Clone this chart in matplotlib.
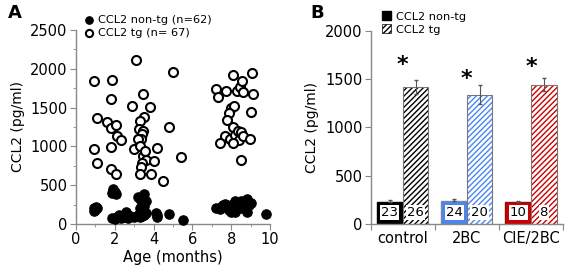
import numpy as np
import matplotlib.pyplot as plt
import matplotlib as mpl
from matplotlib.patches import Patch

plt.rcParams['font.family'] = ['DejaVu Sans']
mpl.rcParams['hatch.linewidth'] = 1.0

# Panel A: CCL2 tg (open circles)
tg_age = [0.95, 1.07, 0.93, 1.07,
          1.86, 1.82, 1.62, 1.80, 2.06, 2.13, 2.30, 1.82, 1.80, 2.04,
          3.1, 2.9, 3.45, 3.8, 3.5, 3.3, 3.25, 3.45, 3.4, 3.35, 3.2, 3.0, 3.3,
          3.45, 3.6, 3.4, 3.35, 3.3, 3.85, 4.0, 4.2, 4.8, 4.5, 5.0, 5.4, 3.55,
          7.2, 7.3, 7.75, 8.1, 8.3, 8.45, 8.55, 8.6, 9.05, 9.1, 8.0, 8.15,
          7.9, 7.8, 9.0, 8.1, 7.7, 7.95, 8.2, 8.35, 8.5, 8.4, 8.6, 8.95, 7.4,
          8.1, 8.5]
tg_val = [1840, 1370, 970, 780,
          1860, 1610, 1320, 1240, 1270, 1140, 1080, 990, 710, 640,
          2110, 1520, 1670, 1510, 1380, 1330, 1220, 1200, 1160, 1100, 1100, 970, 1010,
          880, 820, 780, 740, 640, 640, 810, 980, 1250, 550, 1960, 860, 940,
          1740, 1640, 1720, 1920, 1720, 1760, 1840, 1700, 1940, 1680, 1500, 1520,
          1430, 1340, 1440, 1250, 1130, 1100, 1150, 1200, 1180, 1080, 1140, 1100, 1050,
          1050, 830]

# Panel A: CCL2 non-tg (filled circles)
ntg_age = [0.95, 1.05, 1.0, 1.1, 0.95,
           1.9, 1.85, 2.0, 2.05, 1.9, 1.85, 2.0, 2.2, 2.1, 2.3, 2.4, 2.6, 2.5, 2.8, 2.7, 3.0,
           3.2, 3.3, 3.5, 3.4, 3.5, 3.6, 3.3, 3.4, 3.2, 3.4, 3.5, 3.6, 3.3, 4.1, 4.2, 4.2,
           4.8, 5.5,
           7.2, 7.4, 7.5, 7.7, 7.8, 7.9, 8.0, 8.1, 8.2, 8.2, 8.3, 8.4, 8.5, 8.6, 8.7, 8.8,
           8.8, 8.9, 9.0, 8.0, 9.8, 7.6, 8.5]
ntg_val = [200, 220, 180, 210, 170,
           450, 400, 410, 390, 420, 80, 70, 120, 90, 80, 100, 150, 90, 100, 80, 90,
           350, 320, 390, 280, 230, 300, 200, 180, 120, 100, 120, 140, 90, 140, 120, 90,
           130, 50,
           210, 190, 230, 260, 220, 180, 250, 210, 300, 160, 280, 230, 200, 260, 300, 320,
           160, 250, 270, 160, 130, 240, 290]

# Panel B
groups = ['control', '2BC', 'CIE/2BC']
ntg_mean = [231, 238, 228]
ntg_err = [15, 18, 15]
tg_mean = [1417, 1337, 1443]
tg_err = [75, 100, 70]
star_y = [1650, 1500, 1625]
ntg_n = ['23', '24', '10']
tg_n = ['26', '20', '8']
face_cols = ['black', '#4a86f0', '#cc0000']
edge_cols = ['black', '#7a8aa0', '#8a1010']

fig = plt.figure(figsize=(5.67, 2.72), dpi=100)
W, H = 567, 272
axA = fig.add_axes([76 / W, 1 - 224 / H, 194 / W, 194 / H])
axB = fig.add_axes([370.7 / W, 1 - 224 / H, 192.3 / W, 193.3 / H])

spine_col = '#888888'
for ax in (axA, axB):
    for s in ['top', 'right']:
        ax.spines[s].set_visible(False)
    for s in ['left', 'bottom']:
        ax.spines[s].set_color(spine_col)
        ax.spines[s].set_linewidth(1.0)
    ax.tick_params(which='both', direction='out', color=spine_col, labelsize=10.5,
                   pad=2)
    ax.tick_params(which='major', length=4)
    ax.tick_params(which='minor', length=2.5)

# --- A ---
h1 = axA.scatter(ntg_age, ntg_val, s=46, c='black', edgecolors='black', linewidths=0.8,
                 zorder=3, clip_on=False)
h2 = axA.scatter(tg_age, tg_val, s=42, facecolors='white', edgecolors='black',
                 linewidths=1.5, zorder=2, clip_on=False)
axA.set_xlim(0, 10)
axA.set_ylim(0, 2500)
axA.set_xticks([0, 2, 4, 6, 8, 10])
axA.set_xticks([1, 3, 5, 7, 9], minor=True)
axA.set_yticks(np.arange(0, 2501, 500))
axA.set_yticks(np.arange(250, 2500, 500), minor=True)
axA.set_xlabel('Age (months)', fontsize=10.5, labelpad=2)
axA.set_ylabel('CCL2 (pg/ml)', fontsize=10, labelpad=4)
axA.legend([h1, h2], ['CCL2 non-tg (n=62)', 'CCL2 tg (n= 67)'], loc='lower left',
           bbox_to_anchor=(0.01, 0.93), frameon=False, fontsize=8.2, handletextpad=0.3,
           handlelength=1.0, borderpad=0, labelspacing=0.25, markerscale=0.8)
fig.text(8 / W, 1 - 13 / H, 'A', fontsize=13, fontweight='bold', va='center')

# --- B ---
x = np.arange(len(groups)) + 0.5
bw = 0.4
for i in range(len(groups)):
    axB.bar(x[i] - bw / 2, ntg_mean[i], bw, color=face_cols[i], edgecolor=edge_cols[i],
            linewidth=1.0, zorder=2)
    axB.errorbar(x[i] - bw / 2, ntg_mean[i], yerr=[[0], [ntg_err[i]]], fmt='none',
                 ecolor='#555555', elinewidth=0.8, capsize=1.5, zorder=3)
    axB.bar(x[i] + bw / 2, tg_mean[i], bw, color='white', edgecolor=face_cols[i],
            hatch='//////', linewidth=0, zorder=2)
    axB.bar(x[i] + bw / 2, tg_mean[i], bw, fill=False, edgecolor='#777777',
            linewidth=0.8, zorder=2.5)
    axB.errorbar(x[i] + bw / 2, tg_mean[i], yerr=tg_err[i], fmt='none',
                 ecolor='#555555', elinewidth=0.8, capsize=1.5, zorder=3)
    axB.text(x[i], star_y[i], '*', ha='center', va='center',
             fontsize=16, fontweight='bold')
    axB.text(x[i] - bw / 2, 120, ntg_n[i], ha='center', va='center', fontsize=9.5,
             bbox=dict(boxstyle='square,pad=0.08', fc='white', ec='none'), zorder=4)
    axB.text(x[i] + bw / 2, 120, tg_n[i], ha='center', va='center', fontsize=9.5,
             bbox=dict(boxstyle='square,pad=0.08', fc='white', ec='none'), zorder=4)

axB.set_xlim(0, 3)
axB.set_ylim(0, 2000)
axB.set_xticks([0, 1, 2, 3])
axB.set_xticklabels([])
axB.set_xticks(x, minor=True)
axB.set_xticklabels(groups, minor=True, fontsize=10.5)
axB.tick_params(axis='x', which='minor', length=0, pad=5)
axB.set_yticks(np.arange(0, 2001, 500))
axB.set_ylabel('CCL2 (pg/ml)', fontsize=10, labelpad=4)

hb1 = Patch(facecolor='black', edgecolor='black')
hb2 = Patch(facecolor='white', edgecolor='black', hatch='//////', linewidth=0.5)
axB.legend([hb1, hb2], ['CCL2 non-tg', 'CCL2 tg'], loc='lower left',
           bbox_to_anchor=(0.03, 0.95), frameon=False, fontsize=8.2, handlelength=0.8,
           handleheight=0.8, handletextpad=0.4, borderpad=0, labelspacing=0.25)
fig.text(310 / W, 1 - 13 / H, 'B', fontsize=13, fontweight='bold', va='center')

fig.savefig('out.png', dpi=100)
